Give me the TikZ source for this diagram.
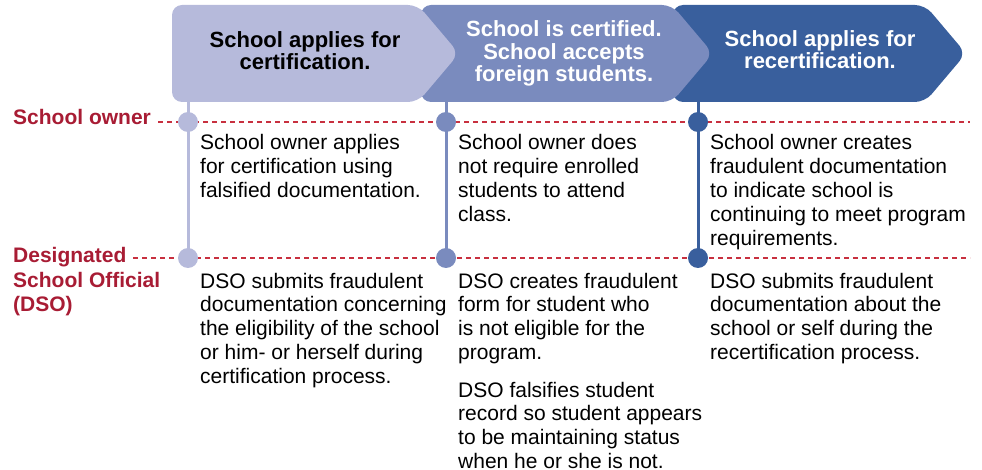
\documentclass[tikz,border=0pt]{standalone}
\usepackage{fontspec}
\setmainfont{Liberation Sans}
\usepackage{tikz}

\definecolor{stepA}{HTML}{B6BADB}
\definecolor{stepB}{HTML}{7A8BBE}
\definecolor{stepC}{HTML}{395F9D}
\definecolor{roleRed}{HTML}{A81C34}
\definecolor{dashRed}{HTML}{C8303F}

\tikzset{
  body/.style={anchor=base west, align=left, inner sep=0pt, font=\fontsize{21}{23.8}\selectfont},
  head/.style={anchor=base, align=center, inner sep=0pt, font=\bfseries\fontsize{22}{22.5}\selectfont},
  role/.style={anchor=base west, align=left, inner sep=0pt, text=roleRed, font=\bfseries\fontsize{21}{24}\selectfont},
  dot/.style={circle, fill=#1, inner sep=0pt, minimum size=20pt},
  lane/.style={color=dashRed, line width=1.2pt, dash pattern=on 5pt off 4pt},
}

\begin{document}
\begin{tikzpicture}[x=1pt, y=-1pt]
        \useasboundingbox (0,0) rectangle (982,470);

        %Step arrows, drawn back to front
        \foreach \col/\xl/\xr in {stepC/673/925, stepB/421/672, stepA/172/418} {
            \fill[color=\col, rounded corners=10pt] (\xl,53.5) -- (\xl,5) -- (\xr,5) -- ({\xr+41},53.5) -- (\xr,102) -- (\xl,102) -- cycle;
        }
        %multi-line nodes sit on the baseline of their last line
        \node[head] (h1) at (305,70) {School applies for\\certification.};
        \node[head, text=white] (h2) at (564,82) {School is certified.\\School accepts\\foreign students.};
        \node[head, text=white] (h3) at (820,69) {School applies for\\recertification.};

        %Roles and their lanes
        \node[role] (owner) at (13,125) {School owner};
        \node[role] (dso) at (13,311) {Designated\\School Official\\(DSO)};
        \draw[lane] (158,122) -- (970,122);
        \draw[lane] (133,258) -- (970,258);

        %Timeline stems
        \foreach \i/\col/\x in {1/stepA/188, 2/stepB/446, 3/stepC/698} {
            \coordinate (top\i) at (\x,102);
            \draw[color=\col, line width=3pt] (top\i) -- (\x,258);
            \node[dot=\col] (own\i) at (\x,122) {};
            \node[dot=\col] (dso\i) at (\x,258) {};
        }

        %School owner row
        \node[body] (t11) at (200,197.6) {School owner applies\\for certification using\\falsified documentation.};
        \node[body] (t12) at (458,221.4) {School owner does\\not require enrolled\\students to attend\\class.};
        \node[body] (t13) at (710,245.2) {School owner creates\\fraudulent documentation\\to indicate school is\\continuing to meet program\\requirements.};

        %DSO row
        \node[body] (t21) at (200,383.2) {DSO submits fraudulent\\documentation concerning\\the eligibility of the school\\or him- or herself during\\certification process.};
        \node[body] (t22) at (458,359.4) {DSO creates fraudulent\\form for student who\\is not eligible for the\\program.};
        \node[body] (t22b) at (458,468.4) {DSO falsifies student\\record so student appears\\to be maintaining status\\when he or she is not.};
        \node[body] (t23) at (710,359.4) {DSO submits fraudulent\\documentation about the\\school or self during the\\recertification process.};
    \end{tikzpicture}
\end{document}
